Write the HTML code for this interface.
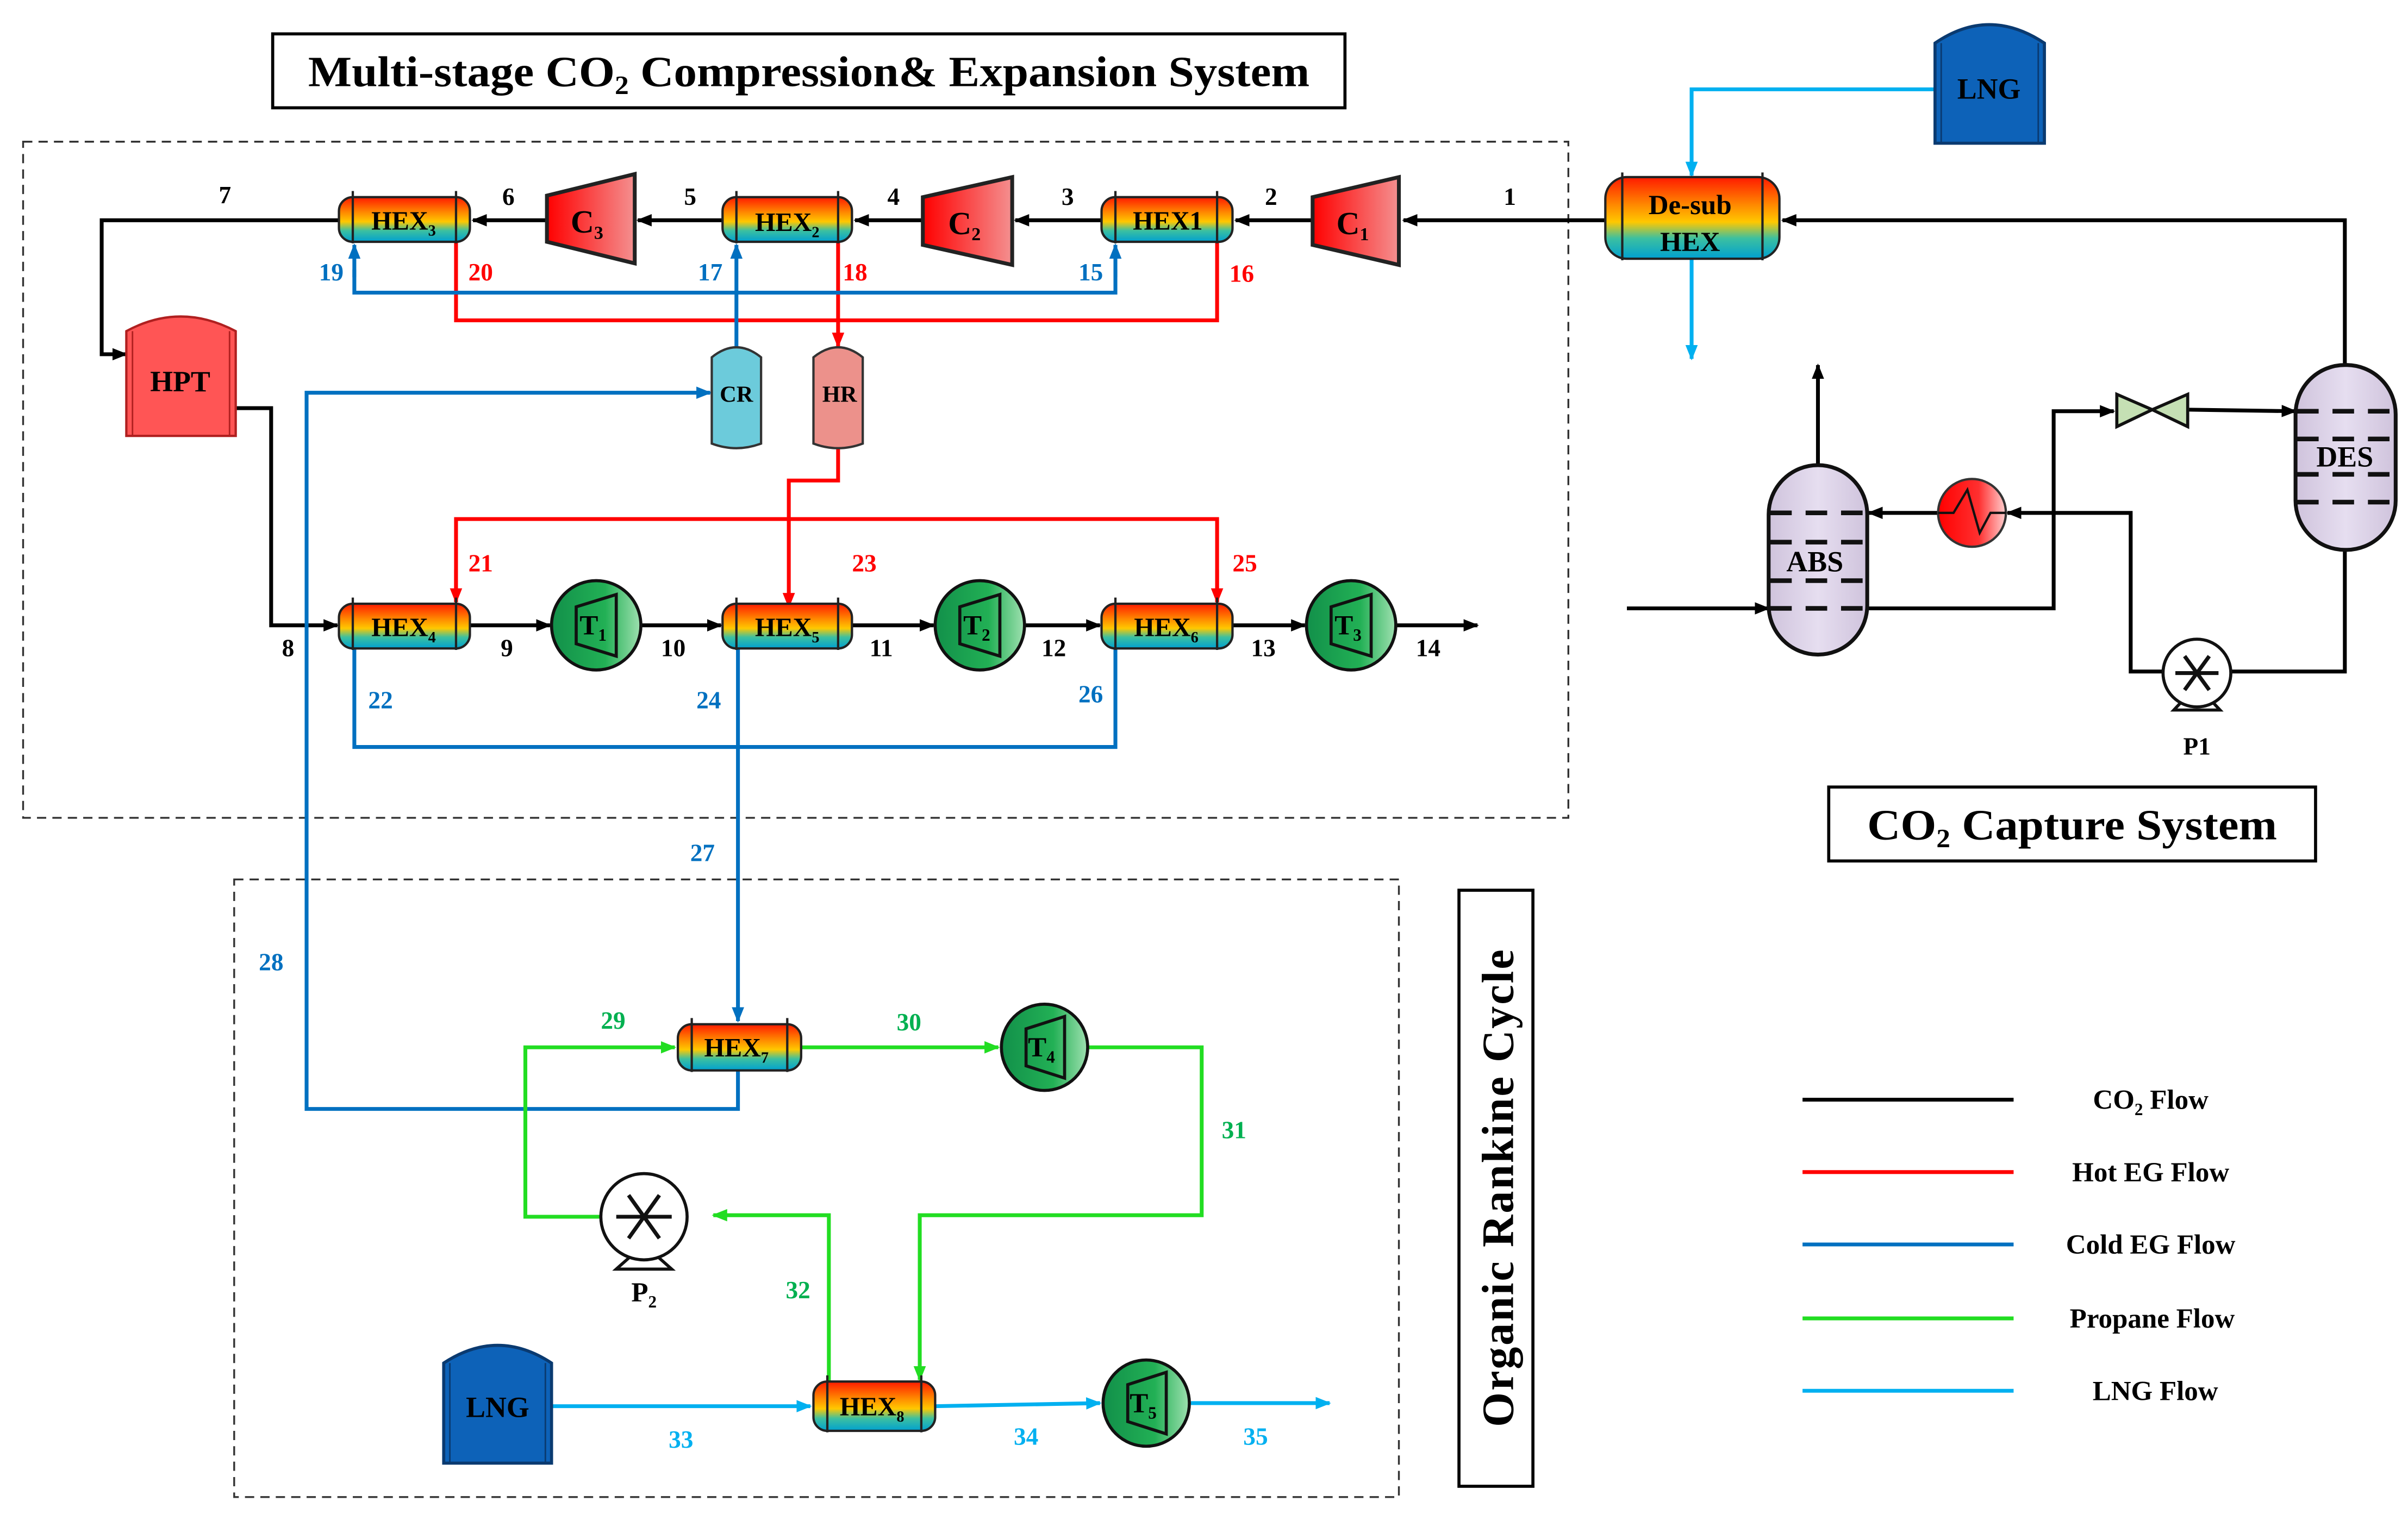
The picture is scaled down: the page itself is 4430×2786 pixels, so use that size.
<!DOCTYPE html>
<html><head><meta charset="utf-8"><style>
html,body{margin:0;padding:0;background:#fff;}
svg{display:block;}
text{font-family:"Liberation Serif",serif;font-weight:bold;}
</style></head><body>
<svg width="4430" height="2786" viewBox="0 0 1563 983" preserveAspectRatio="none" xmlns="http://www.w3.org/2000/svg">
<defs>
<linearGradient id="hg" x1="0" y1="0" x2="0" y2="1">
<stop offset="0" stop-color="#ff1a00"/><stop offset="0.35" stop-color="#ff8c00"/><stop offset="0.55" stop-color="#ffc800"/><stop offset="0.75" stop-color="#3cc0a0"/><stop offset="1" stop-color="#00a0d0"/>
</linearGradient>
<linearGradient id="cg" x1="0" y1="0" x2="1" y2="0"><stop offset="0" stop-color="#ff0000"/><stop offset="1" stop-color="#f49090"/></linearGradient>
<linearGradient id="tg" x1="0" y1="0" x2="1" y2="0"><stop offset="0" stop-color="#12904a"/><stop offset="0.6" stop-color="#22b055"/><stop offset="1" stop-color="#9fe0b0"/></linearGradient>
<linearGradient id="vg" x1="0" y1="0" x2="1" y2="0"><stop offset="0" stop-color="#cfc3dc"/><stop offset="0.5" stop-color="#e6def0"/><stop offset="1" stop-color="#cfc3dc"/></linearGradient>
<linearGradient id="rg" x1="0" y1="0" x2="1" y2="0"><stop offset="0" stop-color="#ff0000"/><stop offset="0.6" stop-color="#ff3030"/><stop offset="1" stop-color="#ffd0d0"/></linearGradient>
<marker id="ak" markerWidth="10" markerHeight="10" refX="9" refY="5" orient="auto" markerUnits="userSpaceOnUse"><path d="M0,1 L10,5 L0,9 Z" fill="#000"/></marker>
<marker id="ar" markerWidth="10" markerHeight="10" refX="9" refY="5" orient="auto" markerUnits="userSpaceOnUse"><path d="M0,1 L10,5 L0,9 Z" fill="#ff0000"/></marker>
<marker id="ab" markerWidth="10" markerHeight="10" refX="9" refY="5" orient="auto" markerUnits="userSpaceOnUse"><path d="M0,1 L10,5 L0,9 Z" fill="#0070c0"/></marker>
<marker id="ag" markerWidth="10" markerHeight="10" refX="9" refY="5" orient="auto" markerUnits="userSpaceOnUse"><path d="M0,1 L10,5 L0,9 Z" fill="#22dd22"/></marker>
<marker id="al" markerWidth="10" markerHeight="10" refX="9" refY="5" orient="auto" markerUnits="userSpaceOnUse"><path d="M0,1 L10,5 L0,9 Z" fill="#00b0f0"/></marker>
</defs>

<!-- boxes -->
<rect x="177" y="22" width="696" height="48" fill="#fff" stroke="#000" stroke-width="2"/>
<text x="200" y="56" font-size="28" textLength="650" lengthAdjust="spacingAndGlyphs">Multi-stage CO<tspan font-size="17" dy="5">2</tspan><tspan dy="-5"> Compression&amp; Expansion System</tspan></text>
<rect x="15" y="92" width="1003" height="439" fill="none" stroke="#333" stroke-width="1.2" stroke-dasharray="6,4"/>
<rect x="152" y="571" width="756" height="401" fill="none" stroke="#333" stroke-width="1.2" stroke-dasharray="6,4"/>
<rect x="947" y="578" width="48" height="387" fill="#fff" stroke="#000" stroke-width="2"/>
<text transform="translate(982,771) rotate(-90)" font-size="29" text-anchor="middle" letter-spacing="1">Organic Rankine Cycle</text>
<rect x="1187" y="511" width="316" height="48" fill="#fff" stroke="#000" stroke-width="2"/>
<text x="1212" y="545" font-size="28" textLength="266" lengthAdjust="spacingAndGlyphs">CO<tspan font-size="17" dy="5">2</tspan><tspan dy="-5"> Capture System</tspan></text>

<!-- black CO2 lines -->
<g stroke="#000" stroke-width="2.5" fill="none">
<line x1="1042" y1="143" x2="911" y2="143" marker-end="url(#ak)"/>
<line x1="852" y1="143" x2="802" y2="143" marker-end="url(#ak)"/>
<line x1="715" y1="143" x2="659" y2="143" marker-end="url(#ak)"/>
<line x1="599" y1="143" x2="555" y2="143" marker-end="url(#ak)"/>
<line x1="469" y1="143" x2="414" y2="143" marker-end="url(#ak)"/>
<line x1="355" y1="143" x2="307" y2="143" marker-end="url(#ak)"/>
<polyline points="220,143 66,143 66,230 82,230" marker-end="url(#ak)"/>
<polyline points="153,265 176,265 176,406 219,406" marker-end="url(#ak)"/>
<line x1="305" y1="406" x2="357" y2="406" marker-end="url(#ak)"/>
<line x1="416" y1="406" x2="468" y2="406" marker-end="url(#ak)"/>
<line x1="553" y1="406" x2="606" y2="406" marker-end="url(#ak)"/>
<line x1="665" y1="406" x2="714" y2="406" marker-end="url(#ak)"/>
<line x1="800" y1="406" x2="847" y2="406" marker-end="url(#ak)"/>
<line x1="906" y1="406" x2="959" y2="406" marker-end="url(#ak)"/>
<polyline points="1522,237 1522,143 1157,143" marker-end="url(#ak)"/>
<line x1="1180" y1="303" x2="1180" y2="237" marker-end="url(#ak)"/>
<line x1="1056" y1="395" x2="1148" y2="395" marker-end="url(#ak)"/>
<polyline points="1212,395 1333,395 1333,267 1372,267" marker-end="url(#ak)"/>
<line x1="1421" y1="266" x2="1490" y2="267" marker-end="url(#ak)"/>
<polyline points="1522,357 1522,436 1448,436"/>
<polyline points="1404,436 1383,436 1383,333 1303,333" marker-end="url(#ak)"/>
<line x1="1258" y1="333" x2="1213" y2="333" marker-end="url(#ak)"/>
</g>

<!-- red hot EG -->
<g stroke="#ff0000" stroke-width="2.5" fill="none">
<polyline points="296,157 296,208 790,208 790,157"/>
<line x1="544" y1="157" x2="544" y2="225" marker-end="url(#ar)"/>
<polyline points="544,288 544,312 512,312 512,394" marker-end="url(#ar)"/>
<polyline points="296,391 296,337 790,337 790,391"/>
<line x1="296" y1="370" x2="296" y2="391" marker-end="url(#ar)"/>
<line x1="790" y1="370" x2="790" y2="391" marker-end="url(#ar)"/>
</g>

<!-- blue cold EG -->
<g stroke="#0070c0" stroke-width="2.5" fill="none">
<polyline points="230,175 230,190 724,190 724,175"/>
<line x1="230" y1="180" x2="230" y2="159" marker-end="url(#ab)"/>
<line x1="724" y1="180" x2="724" y2="159" marker-end="url(#ab)"/>
<line x1="478" y1="225" x2="478" y2="159" marker-end="url(#ab)"/>
<polyline points="479,695 479,720 199,720 199,255 461,255" marker-end="url(#ab)"/>
<polyline points="230,421 230,485 724,485 724,421"/>
<line x1="479" y1="421" x2="479" y2="663" marker-end="url(#ab)"/>
</g>

<!-- green propane -->
<g stroke="#22dd22" stroke-width="2.5" fill="none">
<polyline points="390,790 341,790 341,680 438,680" marker-end="url(#ag)"/>
<line x1="520" y1="680" x2="648" y2="680" marker-end="url(#ag)"/>
<polyline points="706,680 780,680 780,789 597,789 597,896" marker-end="url(#ag)"/>
<polyline points="538,897 538,789 463,789" marker-end="url(#ag)"/>
</g>

<!-- light blue LNG -->
<g stroke="#00b0f0" stroke-width="2.5" fill="none">
<polyline points="1256,58 1098,58 1098,114" marker-end="url(#al)"/>
<line x1="1098" y1="168" x2="1098" y2="233" marker-end="url(#al)"/>
<line x1="358" y1="913" x2="526" y2="913" marker-end="url(#al)"/>
<line x1="607" y1="913" x2="714" y2="911" marker-end="url(#al)"/>
<line x1="773" y1="911" x2="863" y2="911" marker-end="url(#al)"/>
</g>

<!-- HEX units -->
<g stroke="#222" stroke-width="1.5">
<rect x="220" y="128" width="85" height="29" rx="9" fill="url(#hg)"/><line x1="229" y1="124" x2="229" y2="158"/><line x1="296" y1="124" x2="296" y2="158"/>
<rect x="469" y="128" width="84" height="29" rx="9" fill="url(#hg)"/><line x1="478" y1="124" x2="478" y2="158"/><line x1="544" y1="124" x2="544" y2="158"/>
<rect x="715" y="128" width="85" height="29" rx="9" fill="url(#hg)"/><line x1="724" y1="124" x2="724" y2="158"/><line x1="790" y1="124" x2="790" y2="158"/>
<rect x="220" y="392" width="85" height="29" rx="9" fill="url(#hg)"/><line x1="229" y1="388" x2="229" y2="422"/><line x1="296" y1="388" x2="296" y2="422"/>
<rect x="469" y="392" width="84" height="29" rx="9" fill="url(#hg)"/><line x1="478" y1="388" x2="478" y2="422"/><line x1="544" y1="388" x2="544" y2="422"/>
<rect x="715" y="392" width="85" height="29" rx="9" fill="url(#hg)"/><line x1="724" y1="388" x2="724" y2="422"/><line x1="790" y1="388" x2="790" y2="422"/>
<rect x="440" y="665" width="80" height="30" rx="9" fill="url(#hg)"/><line x1="449" y1="661" x2="449" y2="696"/><line x1="511" y1="661" x2="511" y2="696"/>
<rect x="528" y="897" width="79" height="32" rx="9" fill="url(#hg)"/><line x1="537" y1="893" x2="537" y2="930"/><line x1="598" y1="893" x2="598" y2="930"/>
<rect x="1042" y="115" width="113" height="53" rx="14" fill="url(#hg)"/><line x1="1053" y1="112" x2="1053" y2="169"/><line x1="1144" y1="112" x2="1144" y2="169"/>
</g>
<g font-size="17" text-anchor="middle">
<text x="262" y="149">HEX<tspan font-size="10" dy="4">3</tspan></text>
<text x="511" y="150">HEX<tspan font-size="10" dy="4">2</tspan></text>
<text x="758" y="149">HEX1</text>
<text x="262" y="413">HEX<tspan font-size="10" dy="4">4</tspan></text>
<text x="511" y="413">HEX<tspan font-size="10" dy="4">5</tspan></text>
<text x="757" y="413">HEX<tspan font-size="10" dy="4">6</tspan></text>
<text x="478" y="686">HEX<tspan font-size="10" dy="4">7</tspan></text>
<text x="566" y="919">HEX<tspan font-size="10" dy="4">8</tspan></text>
<text x="1097" y="139" font-size="18">De-sub</text>
<text x="1097" y="163" font-size="18">HEX</text>
</g>

<!-- compressors -->
<g stroke="#222" stroke-width="2.5" fill="url(#cg)">
<polygon points="355,127 412,113 412,171 355,157"/>
<polygon points="599,128 657,115 657,172 599,159"/>
<polygon points="852,128 908,115 908,172 852,159"/>
</g>
<g font-size="21" text-anchor="middle">
<text x="381" y="151">C<tspan font-size="12" dy="4">3</tspan></text>
<text x="626" y="152">C<tspan font-size="12" dy="4">2</tspan></text>
<text x="878" y="152">C<tspan font-size="12" dy="4">1</tspan></text>
</g>

<!-- turbines -->
<g stroke="#111" stroke-width="2">
<circle cx="387" cy="406" r="29" fill="url(#tg)"/><polygon points="374,394 400,386 400,426 374,418" fill="none"/>
<circle cx="636" cy="406" r="29" fill="url(#tg)"/><polygon points="623,394 649,386 649,426 623,418" fill="none"/>
<circle cx="877" cy="406" r="29" fill="url(#tg)"/><polygon points="864,394 890,386 890,426 864,418" fill="none"/>
<circle cx="678" cy="680" r="28" fill="url(#tg)"/><polygon points="666,668 691,660 691,700 666,692" fill="none"/>
<circle cx="744" cy="911" r="28" fill="url(#tg)"/><polygon points="732,899 757,891 757,931 732,923" fill="none"/>
</g>
<g font-size="18" text-anchor="middle">
<text x="385" y="412">T<tspan font-size="11" dy="4">1</tspan></text>
<text x="634" y="412">T<tspan font-size="11" dy="4">2</tspan></text>
<text x="875" y="412">T<tspan font-size="11" dy="4">3</tspan></text>
<text x="676" y="686">T<tspan font-size="11" dy="4">4</tspan></text>
<text x="742" y="917">T<tspan font-size="11" dy="4">5</tspan></text>
</g>

<!-- HPT, CR, HR, LNG tanks -->
<path d="M82,283 L82,215 Q117,196 153,215 L153,283 Z" fill="#ff5555" stroke="#b02020" stroke-width="1.5"/>
<line x1="86" y1="215" x2="86" y2="283" stroke="#b02020"/><line x1="149" y1="215" x2="149" y2="283" stroke="#b02020"/>
<text x="117" y="254" font-size="19" text-anchor="middle">HPT</text>
<path d="M462,288 L462,232 Q478,219 494,232 L494,288 Q478,294 462,288 Z" fill="#6ccbdb" stroke="#333" stroke-width="1.5"/>
<text x="478" y="261" font-size="15" text-anchor="middle">CR</text>
<path d="M528,288 L528,232 Q544,219 560,232 L560,288 Q544,294 528,288 Z" fill="#ec918b" stroke="#333" stroke-width="1.5"/>
<text x="545" y="261" font-size="15" text-anchor="middle">HR</text>
<path d="M1256,93 L1256,28 Q1291,4 1327,28 L1327,93 Z" fill="#0d62b8" stroke="#0a3a70" stroke-width="2"/>
<line x1="1260" y1="28" x2="1260" y2="93" stroke="#0a3a70"/><line x1="1323" y1="28" x2="1323" y2="93" stroke="#0a3a70"/>
<text x="1291" y="64" font-size="19" text-anchor="middle">LNG</text>
<path d="M288,950 L288,885 Q323,862 358,885 L358,950 Z" fill="#0d62b8" stroke="#0a3a70" stroke-width="2"/>
<line x1="292" y1="885" x2="292" y2="950" stroke="#0a3a70"/><line x1="354" y1="885" x2="354" y2="950" stroke="#0a3a70"/>
<text x="323" y="920" font-size="19" text-anchor="middle">LNG</text>

<!-- ABS / DES -->
<rect x="1148" y="302" width="64" height="123" rx="32" fill="url(#vg)" stroke="#111" stroke-width="2.5"/>
<g stroke="#111" stroke-width="3" stroke-dasharray="14,9">
<line x1="1149" y1="333" x2="1211" y2="333"/><line x1="1149" y1="352" x2="1211" y2="352"/>
<line x1="1149" y1="377" x2="1211" y2="377"/><line x1="1149" y1="395" x2="1211" y2="395"/>
</g>
<text x="1178" y="371" font-size="19" text-anchor="middle">ABS</text>
<rect x="1490" y="237" width="65" height="120" rx="32" fill="url(#vg)" stroke="#111" stroke-width="2.5"/>
<g stroke="#111" stroke-width="3" stroke-dasharray="14,9">
<line x1="1491" y1="267" x2="1554" y2="267"/><line x1="1491" y1="285" x2="1554" y2="285"/>
<line x1="1491" y1="308" x2="1554" y2="308"/><line x1="1491" y1="326" x2="1554" y2="326"/>
</g>
<text x="1522" y="303" font-size="19" text-anchor="middle">DES</text>
<polygon points="1374,256 1397,266 1374,277" fill="#c5e0b4" stroke="#111" stroke-width="2"/>
<polygon points="1420,256 1397,266 1420,277" fill="#c5e0b4" stroke="#111" stroke-width="2"/>
<ellipse cx="1280" cy="333" rx="22" ry="22" fill="url(#rg)" stroke="#333" stroke-width="1.5"/>
<polyline points="1258,333 1268,333 1277,318 1285,346 1292,333 1302,333" fill="none" stroke="#111" stroke-width="1.5"/>

<!-- pumps -->
<g stroke="#111" stroke-width="2" fill="#fff">
<polygon points="1411,461 1426,445 1441,461"/>
<circle cx="1426" cy="437" r="22"/>
<polygon points="400,824 418,808 436,824"/>
<circle cx="418" cy="790" r="28"/>
</g>
<g stroke="#111" stroke-width="2.5">
<line x1="1412" y1="437" x2="1440" y2="437"/><line x1="1418" y1="426" x2="1434" y2="448"/><line x1="1434" y1="426" x2="1418" y2="448"/>
<line x1="400" y1="790" x2="436" y2="790"/><line x1="408" y1="776" x2="428" y2="804"/><line x1="428" y1="776" x2="408" y2="804"/>
</g>
<text x="1426" y="490" font-size="16" text-anchor="middle">P1</text>
<text x="418" y="845" font-size="18" text-anchor="middle">P<tspan font-size="11" dy="4">2</tspan></text>

<!-- labels -->
<g font-size="16" text-anchor="middle">
<text x="980" y="133">1</text><text x="825" y="133">2</text><text x="693" y="133">3</text><text x="580" y="133">4</text>
<text x="448" y="133">5</text><text x="330" y="133">6</text><text x="146" y="132">7</text>
<text x="187" y="426">8</text><text x="329" y="426">9</text><text x="437" y="426">10</text><text x="572" y="426">11</text>
<text x="684" y="426">12</text><text x="820" y="426">13</text><text x="927" y="426">14</text>
<g fill="#0070c0">
<text x="215" y="182">19</text><text x="461" y="182">17</text><text x="708" y="182">15</text>
<text x="247" y="460">22</text><text x="460" y="460">24</text><text x="708" y="456">26</text>
<text x="456" y="559">27</text><text x="176" y="630">28</text>
</g>
<g fill="#ff0000">
<text x="312" y="182">20</text><text x="555" y="182">18</text><text x="806" y="183">16</text>
<text x="312" y="371">21</text><text x="561" y="371">23</text><text x="808" y="371">25</text>
</g>
<g fill="#00b050">
<text x="398" y="668">29</text><text x="590" y="669">30</text><text x="801" y="739">31</text><text x="518" y="843">32</text>
</g>
<g fill="#00b0f0">
<text x="442" y="940">33</text><text x="666" y="938">34</text><text x="815" y="938">35</text>
</g>
</g>

<!-- legend -->
<g stroke-width="2.5">
<line x1="1170" y1="714" x2="1307" y2="714" stroke="#000"/>
<line x1="1170" y1="761" x2="1307" y2="761" stroke="#ff0000"/>
<line x1="1170" y1="808" x2="1307" y2="808" stroke="#0070c0"/>
<line x1="1170" y1="856" x2="1307" y2="856" stroke="#22dd22"/>
<line x1="1170" y1="903" x2="1307" y2="903" stroke="#00b0f0"/>
</g>
<g font-size="18" text-anchor="middle">
<text x="1396" y="720">CO<tspan font-size="11" dy="4">2</tspan><tspan dy="-4"> Flow</tspan></text>
<text x="1396" y="767">Hot EG Flow</text>
<text x="1396" y="814">Cold EG Flow</text>
<text x="1397" y="862">Propane Flow</text>
<text x="1399" y="909">LNG Flow</text>
</g>
</svg>
</body></html>
